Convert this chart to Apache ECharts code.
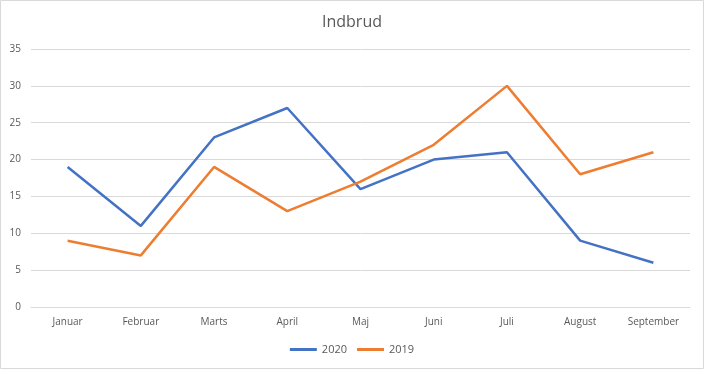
<!DOCTYPE html>
<html><head><meta charset="utf-8">
<script src="https://cdn.jsdelivr.net/npm/echarts@6/dist/echarts.min.js"></script>
<style>html,body{margin:0;padding:0;background:#fff}#c{width:704px;height:369px}</style>
</head><body><div id="c"></div>
<script>
const categories = ['Januar','Februar','Marts','April','Maj','Juni','Juli','August','September'];
const s2020 = [19, 11, 23, 27, 16, 20, 21, 9, 6];
const s2019 = [9, 7, 19, 13, 17, 22, 30, 18, 21];
const chart = echarts.init(document.getElementById('c'), null, {renderer:'canvas'});
const font = '"Open Sans", "Noto Sans", sans-serif';
chart.setOption({
  animation:false,
  textStyle:{fontFamily:font},
  graphic:[{type:'rect',shape:{x:0.5,y:0.5,width:703,height:368},style:{fill:'none',stroke:'#d9d9d9',lineWidth:1},silent:true}],
  title:{text:'Indbrud',left:'center',top:9,textStyle:{fontFamily:font,fontSize:16,fontWeight:'normal',color:'#595959'}},
  grid:{left:31,right:14,top:49,bottom:62,containLabel:false},
  legend:{bottom:9,left:'center',itemWidth:27,itemHeight:3,itemGap:10,icon:'rect',
    textStyle:{fontFamily:font,fontSize:11,color:'#595959'},data:['2020','2019']},
  xAxis:{type:'category',data:categories,boundaryGap:true,
    axisLine:{show:true,lineStyle:{color:'#d9d9d9'}},axisTick:{show:false},
    axisLabel:{color:'#595959',fontSize:10,margin:10,fontFamily:font}},
  yAxis:{type:'value',min:0,max:35,interval:5,
    axisLine:{show:false},axisTick:{show:false},
    splitLine:{lineStyle:{color:'#d9d9d9'}},
    axisLabel:{color:'#595959',fontSize:10,margin:10,fontFamily:font}},
  series:[
    {name:'2020',type:'line',data:s2020,showSymbol:false,symbol:'none',lineStyle:{width:2.5,color:'#4472C4'},itemStyle:{color:'#4472C4'}},
    {name:'2019',type:'line',data:s2019,showSymbol:false,symbol:'none',lineStyle:{width:2.5,color:'#ED7D31'},itemStyle:{color:'#ED7D31'}}
  ]
});
</script></body></html>
